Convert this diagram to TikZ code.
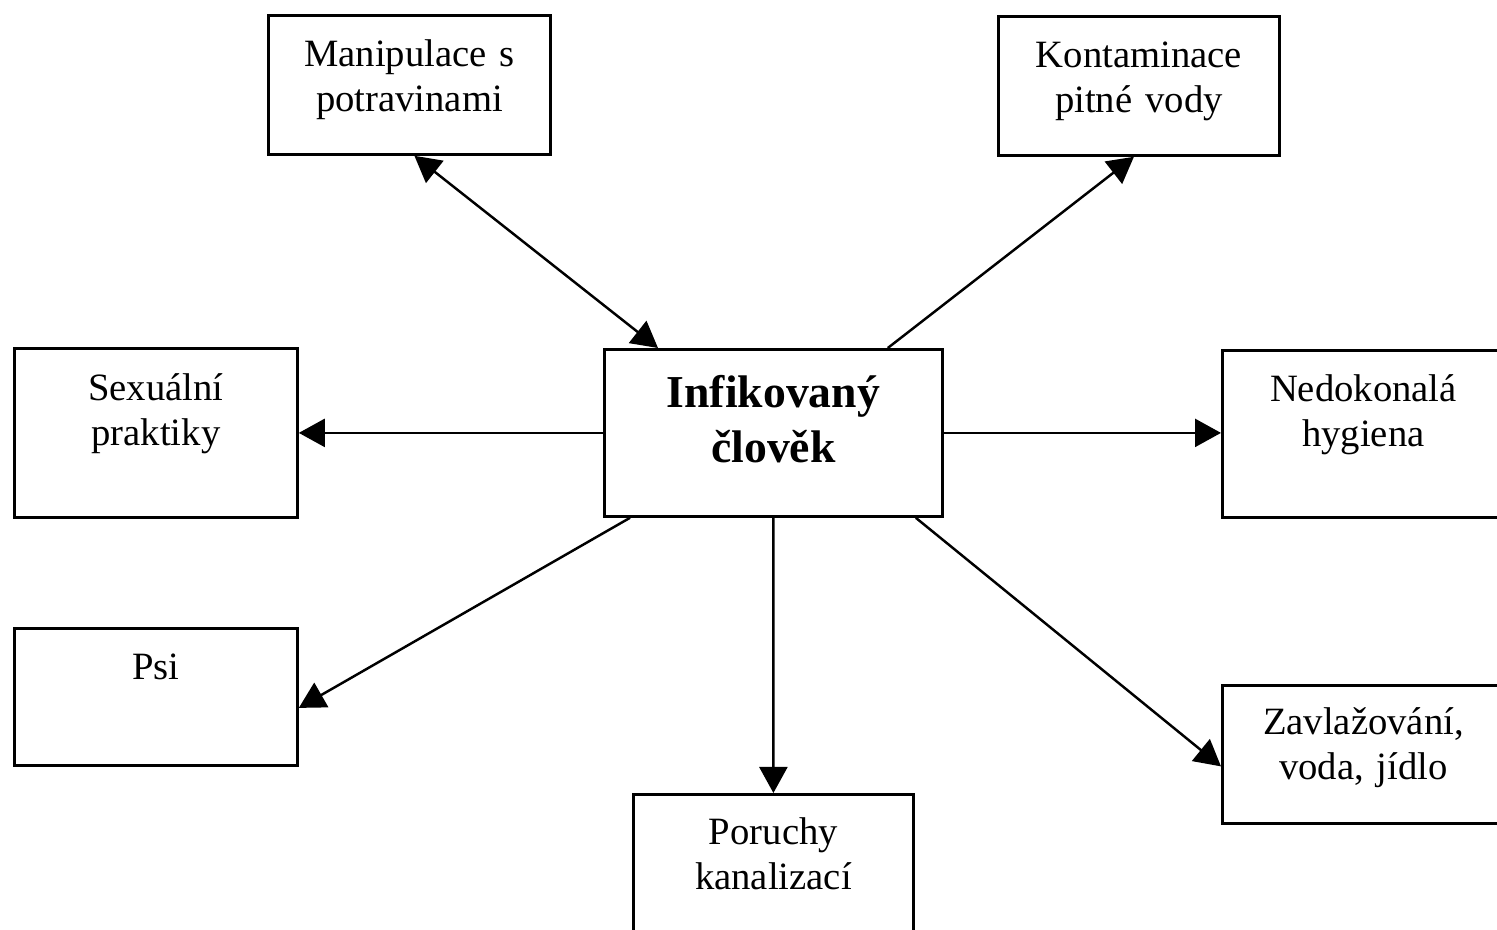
\documentclass[tikz,border=0pt]{standalone}
\usepackage{fontspec}
\setmainfont{Liberation Serif}
\usetikzlibrary{arrows.meta}
\tikzset{
  box/.style  = {rectangle, draw, line width=0.8pt, inner sep=0pt,
                 anchor=north west, text width=2.82cm, align=center,
                 font=\fontsize{11}{12.8}\selectfont},
  hub/.style  = {box, text width=3.38cm,
                 font=\fontsize{13}{15.6}\selectfont\bfseries},
  arr/.style  = {-{Triangle[length=2.6mm,width=2.8mm]}, line width=0.7pt},
  both/.style = {{Triangle[length=2.6mm,width=2.8mm]}-{Triangle[length=2.6mm,width=2.8mm]},
                 line width=0.7pt}
}
\begin{document}
\begin{tikzpicture}
  \useasboundingbox (0,0) rectangle (14.97,-9.30);
  \node[hub, text height=0.58cm, text depth=1.09cm] (clovek) at (6.03,-3.48)
    {Infikovaný\\člověk};
  \node[box, text height=0.51cm, text depth=0.88cm] (manip) at (2.67,-0.14)
    {Manipulace s\\potravinami};
  \node[box, text width=2.81cm, text height=0.51cm, text depth=0.88cm] (kontam) at (9.97,-0.15)
    {Kontaminace\\pitné vody};
  \node[box, text width=2.83cm, text height=0.52cm, text depth=1.17cm] (sex) at (0.13,-3.47)
    {Sexuální\\praktiky};
  \node[box, text width=2.83cm, text height=0.51cm, text depth=0.86cm] (psi) at (0.13,-6.27)
    {Psi};
  \node[box, text height=0.51cm, text depth=1.16cm] (hygiena) at (12.21,-3.49)
    {Nedokonalá\\hygiena};
  \node[box, text height=0.49cm, text depth=0.89cm] (zavlaz) at (12.21,-6.84)
    {Zavlažování,\hspace*{0.2cm}\\voda, jídlo};
  \node[box, text width=2.80cm, text height=0.50cm, text depth=1.18cm] (kanal) at (6.32,-7.93)
    {Poruchy\\kanalizací};

  \draw[both] ([xshift=0.05cm]manip.south) -- ([xshift=0.55cm]clovek.north west);
  \draw[arr] ([xshift=-0.56cm]clovek.north east) -- ([xshift=-0.05cm]kontam.south);
  \draw[arr] (clovek.west) -- (clovek.west -| sex.east);
  \draw[arr] (clovek.east) -- (clovek.east -| hygiena.west);
  \draw[arr] ([xshift=0.27cm]clovek.south west) -- ([yshift=-0.11cm]psi.east);
  \draw[arr] (clovek.south) -- (kanal.north);
  \draw[arr] ([xshift=-0.28cm]clovek.south east) -- ([yshift=-0.12cm]zavlaz.west);
\end{tikzpicture}
\end{document}
